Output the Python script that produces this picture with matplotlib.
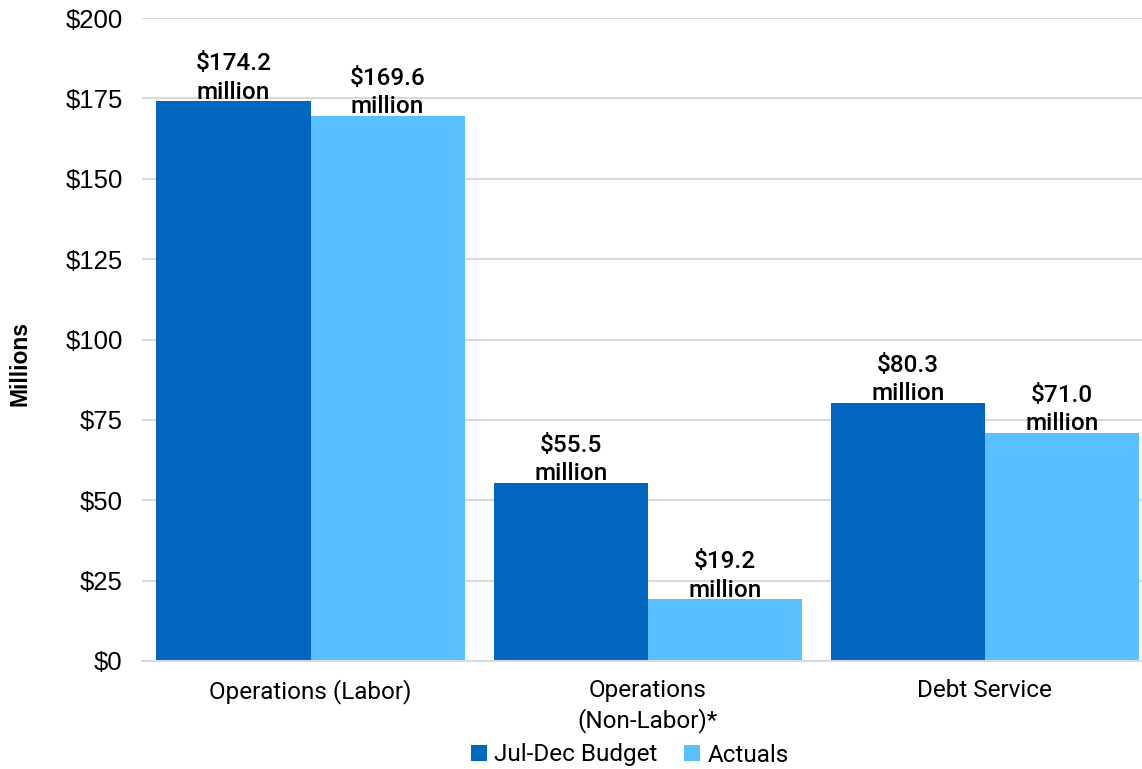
import matplotlib
matplotlib.use("Agg")
import matplotlib.pyplot as plt
import numpy as np

categories = ["Operations (Labor)", "Operations\n(Non-Labor)*", "Debt Service"]
budget = [174.2, 55.5, 80.3]
actuals = [169.6, 19.2, 71.0]
series_names = ["Jul-Dec Budget", "Actuals"]
yticks = [0, 25, 50, 75, 100, 125, 150, 175, 200]

c_budget = "#0066BF"
c_actual = "#5BC0FF"

fig = plt.figure(figsize=(11.42, 7.69), dpi=100)
ax = fig.add_axes([142/1142, 1-661/769, 1-142/1142, (661-18)/769])

x = np.arange(len(categories))
w = 0.457
b1 = ax.bar(x - w/2, budget, w, color=c_budget, label=series_names[0], zorder=3)
b2 = ax.bar(x + w/2, actuals, w, color=c_actual, label=series_names[1], zorder=3)

lab_font = dict(family=["Roboto", "DejaVu Sans"], fontsize=17.5, fontweight="medium", color="black")
for bars, vals in ((b1, budget), (b2, actuals)):
    for r, v in zip(bars, vals):
        ax.text(r.get_x() + r.get_width()/2, v - 0.8, f"${v:.1f}\nmillion",
                ha="center", va="bottom", linespacing=1.3, zorder=4, **lab_font)

ax.set_ylim(0, 200)
ax.set_xlim(-0.5, 2.466)
ax.set_yticks(yticks)
ax.set_yticklabels([f"${t}" for t in yticks], family=["Liberation Sans"], fontsize=18.5)
ax.set_xticks(x)
ax.set_xticklabels(categories, family=["Roboto", "DejaVu Sans"], fontsize=17.5, linespacing=1.3)
ax.tick_params(axis="y", length=0, pad=14)
ax.tick_params(axis="x", length=0, pad=13)
ax.grid(axis="y", color="#D9D9D9", linewidth=1.5, zorder=0)
for s in ["top", "right", "left"]:
    ax.spines[s].set_visible(False)
ax.spines["bottom"].set_color("#D9D9D9")
ax.spines["bottom"].set_linewidth(1.5)
ax.spines["bottom"].set_zorder(5)

fig.text(20/1142, 1-363/769, "Millions", rotation=90, ha="center", va="center",
         family=["Liberation Sans"], fontweight="bold", fontsize=16.5)

leg = fig.legend(handles=[b1, b2], labels=series_names, loc="center", bbox_to_anchor=(630/1142, 1-755/769),
                 ncol=2, frameon=False, handlelength=0.65, handleheight=0.65, handletextpad=0.3,
                 columnspacing=1.1, prop=dict(family=["Roboto", "DejaVu Sans"], size=17.5))

fig.savefig("out.png", dpi=100)
